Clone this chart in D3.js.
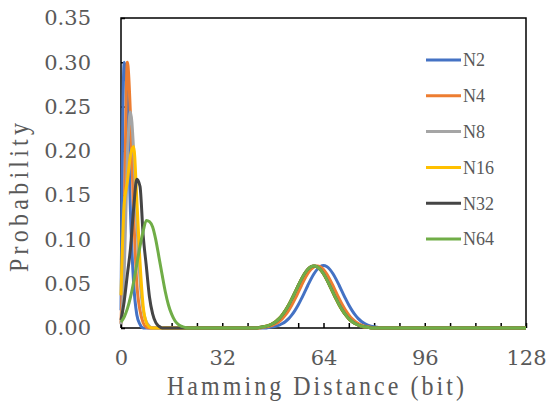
<!DOCTYPE html>
<html>
<head>
<meta charset="utf-8">
<script src="https://cdn.jsdelivr.net/npm/d3@7/dist/d3.min.js"></script>
<style>
  body { margin: 0; background: #fff; }
</style>
</head>
<body>
<div id="chart"></div>
<script>
// series names, as in the legend
const seriesNames = ['N2', 'N4', 'N8', 'N16', 'N32', 'N64']

// probabilities near distance 0 (index = Hamming distance)
const lowN2 = [0.02, 0.30, 0.26, 0.13, 0.05, 0.015, 0.004, 0]
const lowN4 = [0.005, 0.12, 0.30, 0.24, 0.13, 0.05, 0.02, 0.006, 0.001, 0]
const lowN8 = [0.004, 0.06, 0.19, 0.244, 0.20, 0.12, 0.055, 0.02, 0.007, 0.002, 0]
const lowN16 = [0.037, 0.14, 0.165, 0.195, 0.205, 0.145, 0.075, 0.025, 0.006, 0.001, 0]
const lowN32 = [0.009, 0.03, 0.06, 0.09, 0.135, 0.168, 0.16, 0.105, 0.07, 0.035, 0.016, 0.006, 0.002, 0]
const lowN64 = [0.0066, 0.0124, 0.0216, 0.0348, 0.052, 0.072, 0.092, 0.109, 0.1215, 0.120, 0.114, 0.0995,
  0.080, 0.060, 0.041, 0.026, 0.0156, 0.0085, 0.0043, 0.002, 0.001, 0]

// probabilities around distance 64, starting at the given distance
const highStartN2 = 47
const highN2 = [0.0008, 0.0013, 0.0021, 0.0033, 0.0050, 0.0074, 0.0106, 0.0148, 0.0199, 0.0259, 0.0328, 0.0402,
  0.0477, 0.0549, 0.0612, 0.0662, 0.0694, 0.0705, 0.0694, 0.0662, 0.0612, 0.0549, 0.0477, 0.0402, 0.0328,
  0.0259, 0.0199, 0.0148, 0.0106, 0.0074, 0.0050, 0.0033, 0.0021, 0.0013, 0.0008]
const highStartN4 = 45
const highN4 = [0.0008, 0.0013, 0.0021, 0.0033, 0.0050, 0.0074, 0.0106, 0.0148, 0.0199, 0.0259, 0.0328, 0.0402,
  0.0477, 0.0549, 0.0612, 0.0660, 0.0690, 0.0700, 0.0690, 0.0660, 0.0612, 0.0549, 0.0477, 0.0402, 0.0328,
  0.0259, 0.0199, 0.0148, 0.0106, 0.0074, 0.0050, 0.0033, 0.0021, 0.0013, 0.0008]
const highStartN8 = 44
const highN8 = [0.0008, 0.0013, 0.0021, 0.0033, 0.0050, 0.0074, 0.0106, 0.0148, 0.0199, 0.0259, 0.0328, 0.0402,
  0.0477, 0.0549, 0.0612, 0.0660, 0.0690, 0.0700, 0.0690, 0.0660, 0.0612, 0.0549, 0.0477, 0.0402, 0.0328,
  0.0259, 0.0199, 0.0148, 0.0106, 0.0074, 0.0050, 0.0033, 0.0021, 0.0013, 0.0008]
const highStartN16 = 44
const highN16 = [0.0009, 0.0014, 0.0022, 0.0035, 0.0052, 0.0077, 0.0109, 0.0151, 0.0202, 0.0262, 0.0330, 0.0404,
  0.0478, 0.0550, 0.0612, 0.0660, 0.0690, 0.0700, 0.0690, 0.0660, 0.0610, 0.0546, 0.0474, 0.0398, 0.0324,
  0.0255, 0.0195, 0.0145, 0.0103, 0.0072, 0.0048, 0.0032, 0.0020, 0.0012, 0.0007]
const highStartN32 = 44
const highN32 = [0.0008, 0.0013, 0.0021, 0.0033, 0.0050, 0.0074, 0.0106, 0.0148, 0.0199, 0.0259, 0.0328, 0.0402,
  0.0477, 0.0549, 0.0612, 0.0660, 0.0690, 0.0700, 0.0690, 0.0660, 0.0612, 0.0549, 0.0477, 0.0402, 0.0328,
  0.0259, 0.0199, 0.0148, 0.0106, 0.0074, 0.0050, 0.0033, 0.0021, 0.0013, 0.0008]
const highStartN64 = 44
const highN64 = [0.0008, 0.0013, 0.0021, 0.0033, 0.0050, 0.0074, 0.0106, 0.0148, 0.0199, 0.0259, 0.0328, 0.0402,
  0.0477, 0.0549, 0.0612, 0.0660, 0.0690, 0.0700, 0.0690, 0.0660, 0.0612, 0.0549, 0.0477, 0.0402, 0.0328,
  0.0259, 0.0199, 0.0148, 0.0106, 0.0074, 0.0050, 0.0033, 0.0021, 0.0013, 0.0008]

// axes
const xTickValues = [0, 8, 16, 24, 32, 40, 48, 56, 64, 72, 80, 88, 96, 104, 112, 120, 128]
const xLabelValues = [0, 32, 64, 96, 128]
const yTickValues = [0, 0.05, 0.10, 0.15, 0.20, 0.25, 0.30, 0.35]
const xTitle = 'Hamming Distance (bit)'
const yTitle = 'Probability'

const colors = ['#4472C4', '#ED7D31', '#A5A5A5', '#FFC000', '#454545', '#70AD47']
const textGrey = '#595959'

const width = 548
const height = 402
const margin = { left: 121, right: 22, top: 18, bottom: 74 }

// full 0..128 series from the two parts
const buildSeries = (low, highStart, high) => {
  const v = new Array(129).fill(0)
  low.forEach((p, i) => { v[i] = p })
  high.forEach((p, i) => { v[highStart + i] = p })
  return v.map((p, i) => ({ x: i, y: p }))
}

const series = [
  buildSeries(lowN2, highStartN2, highN2),
  buildSeries(lowN4, highStartN4, highN4),
  buildSeries(lowN8, highStartN8, highN8),
  buildSeries(lowN16, highStartN16, highN16),
  buildSeries(lowN32, highStartN32, highN32),
  buildSeries(lowN64, highStartN64, highN64)
]

const svg = d3.select('#chart')
  .append('svg')
  .attr('width', width)
  .attr('height', height)

const x = d3.scaleLinear().domain([0, 128]).range([margin.left, width - margin.right])
const y = d3.scaleLinear().domain([0, 0.35]).range([height - margin.bottom, margin.top])

// x axis, ticks pointing inward
const xAxis = svg.append('g')
  .attr('transform', `translate(0,${y(0)})`)
  .call(d3.axisBottom(x)
    .tickValues(xTickValues)
    .tickSize(-5)
    .tickPadding(22)
    .tickFormat(d => xLabelValues.includes(d) ? d : ''))
xAxis.select('.domain').remove()
xAxis.selectAll('line').attr('stroke', '#000').attr('stroke-width', 1.5)
xAxis.selectAll('text')
  .attr('fill', textGrey)
  .style('font-family', '"DejaVu Serif", serif')
  .style('font-size', '21px')

// y axis
const yAxis = svg.append('g')
  .attr('transform', `translate(${x(0)},0)`)
  .call(d3.axisLeft(y)
    .tickValues(yTickValues)
    .tickSize(-4)
    .tickPadding(30)
    .tickFormat(d3.format('.2f')))
yAxis.select('.domain').remove()
yAxis.selectAll('line').attr('stroke', '#000').attr('stroke-width', 1.5)
yAxis.selectAll('text')
  .attr('fill', textGrey)
  .style('font-family', '"DejaVu Serif", serif')
  .style('font-size', '21px')

// frame
svg.append('path')
  .attr('d', `M${x(0)},${y(0)}V${y(0.35)}H${x(128)}V${y(0)}`)
  .attr('fill', 'none')
  .attr('stroke', '#000')
  .attr('stroke-width', 1.5)
svg.append('line')
  .attr('x1', x(0)).attr('x2', x(128))
  .attr('y1', y(0)).attr('y2', y(0))
  .attr('stroke', '#000')
  .attr('stroke-width', 1.5)

// curves
const line = d3.line()
  .x(d => x(d.x))
  .y(d => y(d.y))
  .curve(d3.curveMonotoneX)

svg.append('g')
  .selectAll('path')
  .data(series)
  .join('path')
  .attr('d', line)
  .attr('fill', 'none')
  .attr('stroke', (d, i) => colors[i])
  .attr('stroke-width', 3)
  .attr('stroke-linejoin', 'round')

// legend
const legend = svg.append('g')
  .selectAll('g')
  .data(seriesNames)
  .join('g')
  .attr('transform', (d, i) => `translate(426,${60 + i * 35.8})`)
legend.append('line')
  .attr('x1', 0).attr('x2', 35)
  .attr('stroke', (d, i) => colors[i])
  .attr('stroke-width', 3)
legend.append('text')
  .attr('x', 37)
  .attr('dy', '0.36em')
  .attr('fill', textGrey)
  .style('font-family', '"Liberation Serif", serif')
  .style('font-size', '18px')
  .text(d => d)

// axis titles (evenly spaced serif, like the original's monospaced serif)
svg.append('text')
  .attr('transform', 'translate(167,395) scale(1,1.1)')
  .attr('textLength', 297)
  .attr('lengthAdjust', 'spacing')
  .attr('fill', textGrey)
  .style('font-family', '"Liberation Serif", serif')
  .style('font-size', '24px')
  .text(xTitle)

svg.append('text')
  .attr('transform', 'translate(28,272) rotate(-90) scale(1,1.15)')
  .attr('textLength', 149)
  .attr('lengthAdjust', 'spacing')
  .attr('fill', textGrey)
  .style('font-family', '"Liberation Serif", serif')
  .style('font-size', '24px')
  .text(yTitle)
</script>
</body>
</html>
